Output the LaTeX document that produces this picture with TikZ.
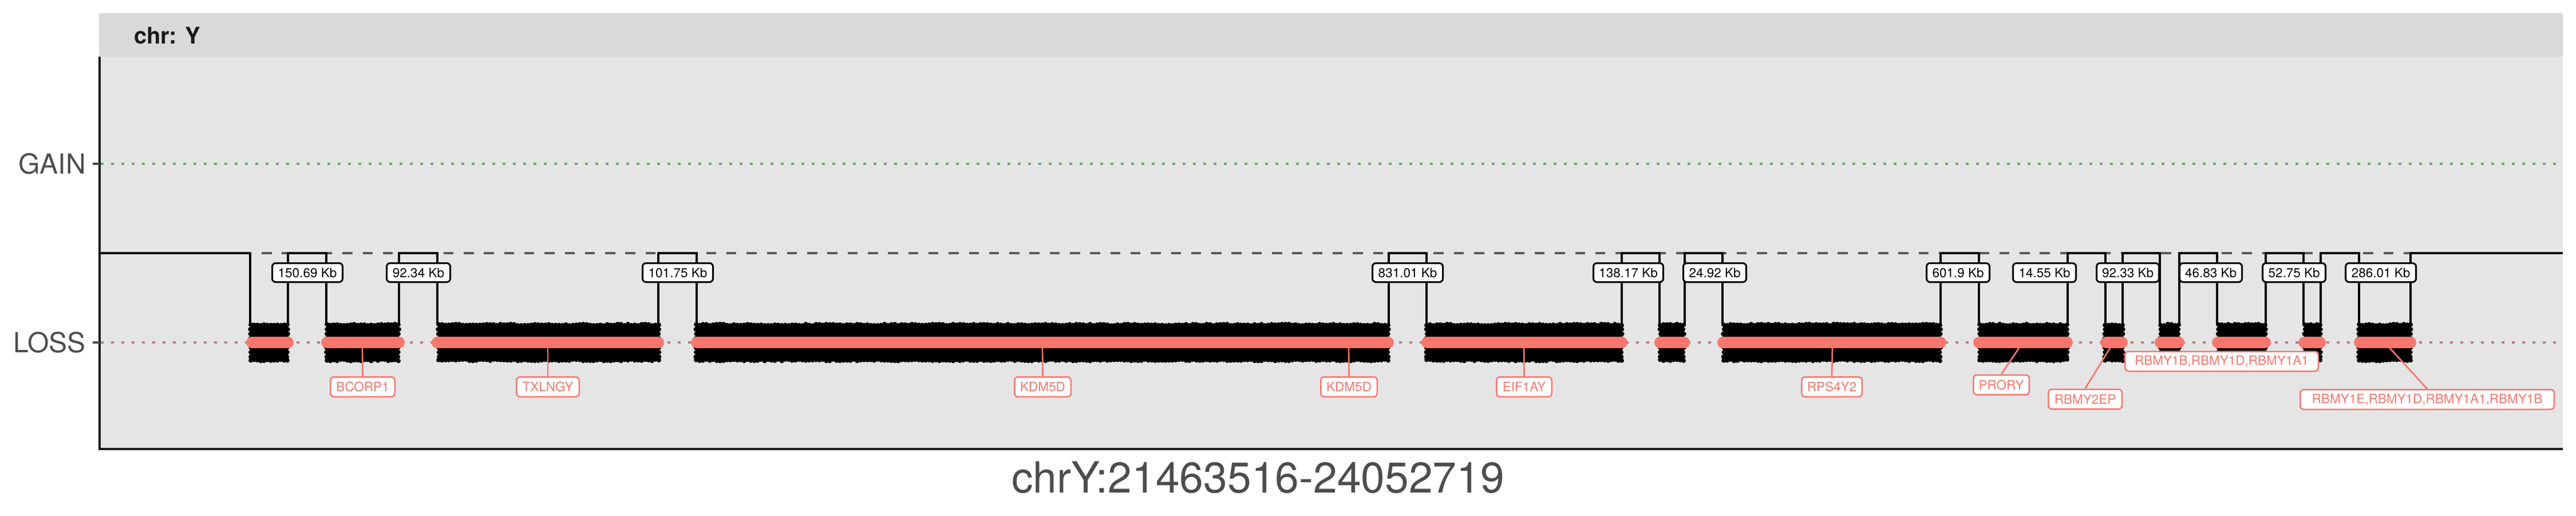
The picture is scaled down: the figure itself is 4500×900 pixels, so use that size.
\documentclass[tikz,border=0pt]{standalone}
\usepackage{fontspec}
\setmainfont{TeX Gyre Heros}
\definecolor{panelbg}{HTML}{E5E5E5}
\definecolor{stripbg}{HTML}{D9D9D9}
\definecolor{lossred}{HTML}{F8766D}
\definecolor{gaindot}{RGB}{100,170,100}
\definecolor{lossdot}{RGB}{192,120,116}
\definecolor{axistext}{HTML}{4D4D4D}
\definecolor{axisline}{HTML}{1A1A1A}
\definecolor{dashgray}{HTML}{595959}
\pgfdeclarelayer{lab}
\pgfsetlayers{main,lab}
\newcommand\drawblob[2]{%
  \fill[black] (#1+3,567) rectangle (#2-3,629);
  \pgfmathsetmacro\bw{#2-#1-8}%
  \pgfmathtruncatemacro\bn{max(1,round(\bw/6))}%
  \pgfmathsetmacro\bstep{\bw/\bn}%
  \foreach \k in {0,...,\bn}{%
    \pgfmathsetmacro\bx{#1+4+\bstep*\k}%
    \pgfmathsetmacro\bya{567+1.3*rand}%
    \pgfmathsetmacro\byb{629+1.3*rand}%
    \fill[black] (\bx,\bya) circle[radius=4pt];
    \fill[black] (\bx,\byb) circle[radius=4pt];
  }%
  \foreach \yy in {575,583,...,623}{%
    \pgfmathsetmacro\bxa{#1+4+rand}%
    \pgfmathsetmacro\bxb{#2-4+rand}%
    \fill[black] (\bxa,\yy) circle[radius=4pt];
    \fill[black] (\bxb,\yy) circle[radius=4pt];
  }%
}
\begin{document}
\begin{tikzpicture}[x=1pt,y=-1pt,
  gaplab/.style={draw=black,fill=white,line width=3pt,rounded corners=6pt,inner xsep=4pt,inner ysep=0pt,minimum height=33pt,font=\fontsize{22.5}{27}\selectfont,text=black},
  genelab/.style={draw=lossred,fill=white,line width=2.5pt,rounded corners=6pt,inner xsep=4pt,inner ysep=0pt,minimum height=34.5pt,font=\fontsize{22.5}{27}\selectfont,text=lossred},
  stepline/.style={line width=4pt,black},
  lossbar/.style={line width=20pt,lossred,line cap=round},
  conn/.style={line width=2.7pt,lossred},
  dotline/.style={line width=4pt,dash pattern=on 5pt off 13pt},
  tickline/.style={line width=4pt,axisline!80!white},
  ylab/.style={anchor=east,inner sep=0pt,text=axistext,font=\fontsize{48}{56}\selectfont},
]
\pgfmathsetseed{7}
\useasboundingbox (0,0) rectangle (4500,900);
% strip and panel
\fill[stripbg] (173,23) rectangle (4477,99);
\fill[panelbg] (173,99) rectangle (4477,784);
\node[anchor=base west,inner sep=0pt,text=axisline,font=\fontsize{40}{48}\selectfont\bfseries] (strip) at (234,76) {chr: Y};
% reference lines
\draw[dotline,gaindot] (176,286) -- (4477,286);
\draw[dotline,lossdot] (176,598) -- (4477,598);
% normal level dashed
\draw[line width=3.7pt,dashgray,dash pattern=on 17.5pt off 17.8pt] (457,442) -- (4211,442);
% step profile
\draw[stepline] (173,442) -- (437,442) -- (437,567);
\foreach \a/\b in {503/570,697/764,1150/1217,2426/2492,2833/2899,2943/3009,3390/3457,3612/3678,3708/3773,3807/3873,3958/4024,4054/4121}
  \draw[stepline] (\a,567) -- (\a,442) -- (\b,442) -- (\b,567);
\draw[stepline] (4211,567) -- (4211,442) -- (4477,442);
% data points
\drawblob{434}{506}
\drawblob{567}{700}
\drawblob{762}{1155}
\drawblob{1212}{2429}
\drawblob{2488}{2837}
\drawblob{2896}{2945}
\drawblob{3007}{3393}
\drawblob{3454}{3615}
\drawblob{3673}{3712}
\drawblob{3770}{3810}
\drawblob{3871}{3961}
\drawblob{4022}{4057}
\drawblob{4117}{4215}
% loss segments
\foreach \a/\b in {430/513,561/707,754/1160,1207/2435,2483/2843,2890/2952,3000/3400,3447/3621,3669/3717,3764/3816,3864/3967,4015/4063,4112/4221}
  \draw[lossbar] (\a+10,598) -- (\b-10,598);
% axes
\draw[line width=4pt,axisline] (174,99) -- (174,784) -- (4477,784);
\draw[tickline] (162,286) -- (174,286);
\draw[tickline] (162,598) -- (174,598);
\node[ylab] (gain) at (150,286) {GAIN};
\node[ylab] (loss) at (150,598) {LOSS};
\node[anchor=base,inner sep=0pt,text=axistext,font=\fontsize{75}{90}\selectfont] (xtitle) at (2197.5,860) {chrY:21463516-24052719};
% gene labels
\coordinate (p1) at (633,606);
\coordinate (p2) at (957,606);
\coordinate (p3) at (1821,606);
\coordinate (p4) at (2356,606);
\coordinate (p5) at (2662,606);
\coordinate (p6) at (3201,606);
\coordinate (p7) at (3528,606);
\coordinate (p8) at (3687,606);
\coordinate (p10) at (4173,606);
\begin{pgfonlayer}{lab}
\node[genelab,minimum width=112.5pt] (n1) at (633.5,675.5) {BCORP1};
\node[genelab,minimum width=109.5pt] (n2) at (957,675.5) {TXLNGY};
\node[genelab,minimum width=98.5pt] (n3) at (1821.5,675.5) {KDM5D};
\node[genelab,minimum width=98.5pt] (n4) at (2356.5,675.5) {KDM5D};
\node[genelab,minimum width=96.5pt] (n5) at (2662.5,675.5) {EIF1AY};
\node[genelab,minimum width=105.5pt] (n6) at (3200,675.5) {RPS4Y2};
\node[genelab,minimum width=97.5pt] (n7) at (3496,672) {PRORY};
\node[genelab,minimum width=128.5pt] (n8) at (3642.5,697) {RBMY2EP};
\node[genelab,minimum width=337.5pt] (n9) at (3881,631) {RBMY1B,RBMY1D,RBMY1A1};
\node[genelab,minimum width=443.5pt] (n10) at (4240,697.5) {RBMY1E,RBMY1D,RBMY1A1,RBMY1B};
% gap size labels
\node[gaplab,minimum width=123pt] (g1) at (537,476) {150.69 Kb};
\node[gaplab,minimum width=111pt] (g2) at (731,476) {92.34 Kb};
\node[gaplab,minimum width=123pt] (g3) at (1184,476) {101.75 Kb};
\node[gaplab,minimum width=123pt] (g4) at (2459,476) {831.01 Kb};
\node[gaplab,minimum width=122pt] (g5) at (2844.5,476) {138.17 Kb};
\node[gaplab,minimum width=110pt] (g6) at (2995.5,476) {24.92 Kb};
\node[gaplab,minimum width=110pt] (g7) at (3420.5,476) {601.9 Kb};
\node[gaplab,minimum width=110pt] (g8) at (3571.5,476) {14.55 Kb};
\node[gaplab,minimum width=109pt] (g9) at (3717,476) {92.33 Kb};
\node[gaplab,minimum width=109pt] (g10) at (3862,476) {46.83 Kb};
\node[gaplab,minimum width=110pt] (g11) at (4007.5,476) {52.75 Kb};
\node[gaplab,minimum width=123pt] (g12) at (4159,476) {286.01 Kb};
\end{pgfonlayer}
\foreach \i in {1,2,3,4,5,6,7,8,10}
  \draw[conn] (p\i) -- (n\i.north);
\end{tikzpicture}
\end{document}
